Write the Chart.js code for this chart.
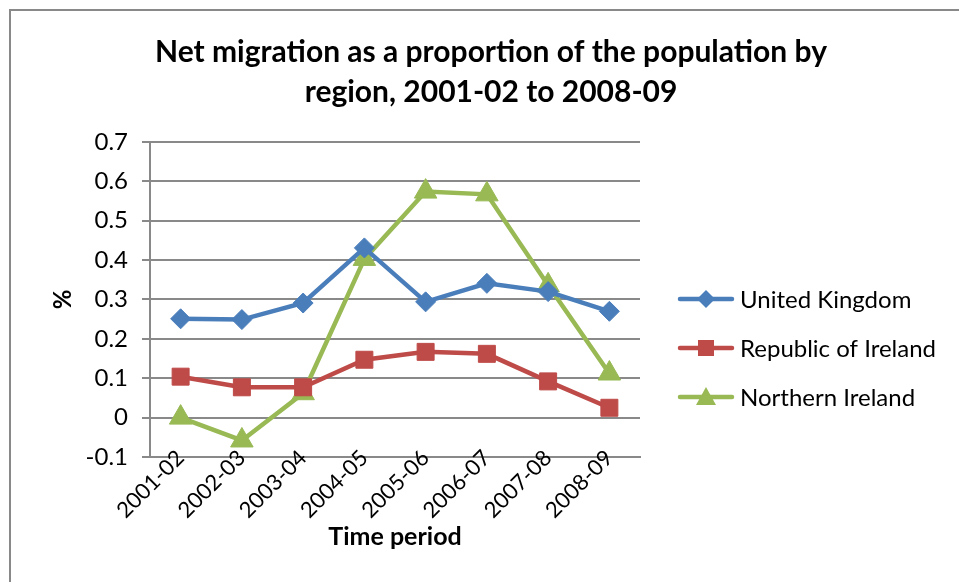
<!DOCTYPE html>
<html>
<head>
<meta charset="utf-8">
<script src="https://cdn.jsdelivr.net/npm/chart.js@4/dist/chart.umd.min.js"></script>
<style>
  body { margin: 0; background: #fff; }
  #wrap { position: relative; width: 959px; height: 582px; overflow: hidden; }
  #frame { position: absolute; left: 9px; top: 9px; width: 1000px; height: 700px; border: 2px solid #898989; }
  canvas { position: absolute; left: 0; top: 0; }
</style>
</head>
<body>
<div id="wrap">
  <div id="frame"></div>
  <canvas id="chart" width="959" height="582"></canvas>
</div>
<script>
var periods = ["2001-02", "2002-03", "2003-04", "2004-05", "2005-06", "2006-07", "2007-08", "2008-09"];
var seriesNames = ["United Kingdom", "Republic of Ireland", "Northern Ireland"];
var unitedKingdom = [0.251, 0.249, 0.291, 0.431, 0.294, 0.341, 0.320, 0.270];
var republicOfIreland = [0.104, 0.077, 0.077, 0.147, 0.167, 0.162, 0.092, 0.025];
var northernIreland = [0.000, -0.058, 0.062, 0.403, 0.574, 0.567, 0.336, 0.112];
var yTicks = [-0.1, 0, 0.1, 0.2, 0.3, 0.4, 0.5, 0.6, 0.7];

var fontName = "Lato";
var colors = ["#4A7EBB", "#BE4B48", "#98B954"];
var styles = ["rectRot", "rect", "triangle"];
var radii = [10, 12, 13];

// small picture of line + marker, used as the legend symbol
function legendIcon(color, style)
{
	let c = document.createElement("canvas");
	c.width = 58;
	c.height = 24;
	let ctx = c.getContext("2d");
	ctx.strokeStyle = color;
	ctx.fillStyle = color;
	ctx.lineWidth = 4.5;
	ctx.lineCap = "round";
	ctx.beginPath();
	ctx.moveTo(3, 12);
	ctx.lineTo(55, 12);
	ctx.stroke();
	ctx.beginPath();
	if (style == "rectRot")
	{
		ctx.moveTo(29, 3); ctx.lineTo(38, 12); ctx.lineTo(29, 21); ctx.lineTo(20, 12);
	}
	else if (style == "rect")
	{
		ctx.rect(21, 4, 16, 16);
	}
	else
	{
		ctx.moveTo(29, 2); ctx.lineTo(39, 20); ctx.lineTo(19, 20);
	}
	ctx.closePath();
	ctx.fill();
	return c;
}

var icons = [];
for (let i = 0; i < 3; i++)
{
	icons[i] = legendIcon(colors[i], styles[i]);
}

// legend drawn to the right of the plot area
var sideLegend = {
	id: "sideLegend",
	afterDraw: function(chart)
	{
		let ctx = chart.ctx;
		let area = chart.chartArea;
		ctx.save();
		ctx.font = "24px " + fontName;
		ctx.fillStyle = "#000";
		ctx.textBaseline = "middle";
		ctx.textAlign = "left";
		for (let i = 0; i < chart.data.datasets.length; i++)
		{
			let y = area.top + 157 + 49 * i;
			ctx.drawImage(icons[i], area.right + 37, y - 12);
			ctx.fillText(chart.data.datasets[i].label, area.right + 100, y + 1);
		}
		ctx.restore();
	}
};

function makeSet(label, values, i)
{
	return {
		label: label,
		data: values,
		borderColor: colors[i],
		backgroundColor: colors[i],
		borderWidth: 4.5,
		pointStyle: styles[i],
		pointRadius: radii[i],
		pointHoverRadius: radii[i],
		pointBackgroundColor: colors[i],
		pointBorderColor: colors[i],
		pointBorderWidth: 1,
		tension: 0
	};
}

new Chart("chart", {
	type: "line",
	data: {
		labels: periods,
		datasets: [
			makeSet(seriesNames[0], unitedKingdom, 0),
			makeSet(seriesNames[1], republicOfIreland, 1),
			makeSet(seriesNames[2], northernIreland, 2)
		]
	},
	plugins: [sideLegend],
	options: {
		responsive: false,
		animation: false,
		layout: { padding: { left: 23, right: 0, top: 0, bottom: 0 } },
		plugins: {
			title: {
				display: true,
				text: ["Net migration as a proportion of the population by", "region, 2001-02 to 2008-09"],
				color: "#000",
				font: { family: fontName, size: 30, weight: "bold", lineHeight: 1.333 },
				padding: { top: 32, bottom: 30 }
			},
			legend: { display: false },
			tooltip: { enabled: false }
		},
		scales: {
			x: {
				offset: true,
				grid: { display: false, drawTicks: false },
				border: { display: true, color: "#898989", width: 2 },
				ticks: {
					color: "#000",
					font: { family: fontName, size: 22 },
					minRotation: 45,
					maxRotation: 45,
					padding: -12
				},
				title: {
					display: true,
					text: "Time period",
					color: "#000",
					font: { family: fontName, size: 25, weight: "bold" },
					padding: { top: 0, bottom: 30 }
				},
				afterFit: function(scale)
				{
					scale.height = 125;
					// let the slanted labels reach up past the axis line
					scale._computeLabelArea = function() { return null; };
				}
			},
			y: {
				min: -0.1,
				max: 0.7,
				afterBuildTicks: function(scale)
				{
					scale.ticks = yTicks.map(function(v) { return { value: v }; });
				},
				grid: { color: "#898989", lineWidth: 2, tickLength: 8 },
				border: { display: true, color: "#898989", width: 2 },
				ticks: {
					color: "#000",
					font: { family: fontName, size: 24 },
					padding: 14,
					callback: function(v) { return Math.round(v * 10) / 10; }
				},
				title: {
					display: true,
					text: "%",
					color: "#000",
					font: { family: fontName, size: 24, weight: "bold" },
					padding: { top: 26, bottom: 0 }
				},
				afterFit: function(scale) { scale.width = 127; }
			},
			// empty axis that keeps room for the legend on the right
			legendRoom: {
				type: "linear",
				position: "right",
				grid: { display: false, drawTicks: false },
				border: { display: false },
				ticks: { display: false },
				afterFit: function(scale) { scale.width = 319; }
			}
		}
	}
});
</script>
</body>
</html>
